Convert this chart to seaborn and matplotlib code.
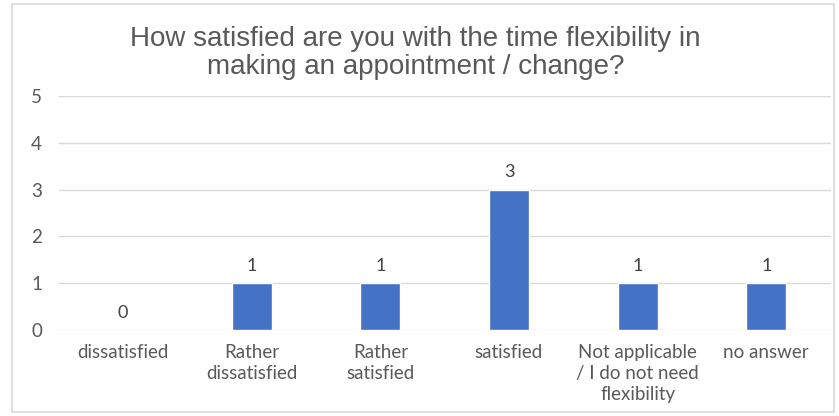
import matplotlib
matplotlib.use("Agg")
import matplotlib.pyplot as plt
import seaborn as sns
import pandas as pd
from matplotlib.patches import Rectangle

# data
categories = ["dissatisfied", "Rather\ndissatisfied", "Rather\nsatisfied", "satisfied",
              "Not applicable\n/ I do not need\nflexibility", "no answer"]
counts = [0, 1, 1, 3, 1, 1]
yticks = [0, 1, 2, 3, 4, 5]
title = "How satisfied are you with the time flexibility in\nmaking an appointment / change?"

df = pd.DataFrame({"category": categories, "count": counts})

sns.set_style("white")
plt.rcParams["font.family"] = ["Lato", "DejaVu Sans"]

fig = plt.figure(figsize=(8.39, 4.16), dpi=100)
ax = fig.add_axes([0.070, 0.207, 0.920, 0.562])

sns.barplot(data=df, x="category", y="count", color="#4472C4", width=0.31,
            saturation=1, ax=ax, zorder=3)

ax.set_ylim(0, 5)
ax.set_yticks(yticks)
ax.grid(axis="y", color="#d9d9d9", linewidth=1, zorder=0)
for s in ax.spines.values():
    s.set_visible(False)
ax.tick_params(axis="both", length=0, labelsize=13.5, labelcolor="#595959")
ax.tick_params(axis="y", pad=12)
ax.tick_params(axis="x", pad=10)
for lbl in ax.get_xticklabels():
    lbl.set_linespacing(1.3)
ax.set_xlabel("")
ax.set_ylabel("")

for i, v in enumerate(counts):
    ax.text(i, v + 0.2, str(v), ha="center", va="bottom", fontsize=13, color="#404040")

fig.text(0.495, 0.873, title, ha="center", va="center", fontsize=20,
         color="#595959", family=["Liberation Sans", "DejaVu Sans"], linespacing=1.12)

fig.patches.append(Rectangle((0.014, 0.01), 0.98, 0.98, transform=fig.transFigure,
                             fill=False, edgecolor="#d9d9d9", linewidth=1.2))

fig.savefig("out.png", dpi=100)
